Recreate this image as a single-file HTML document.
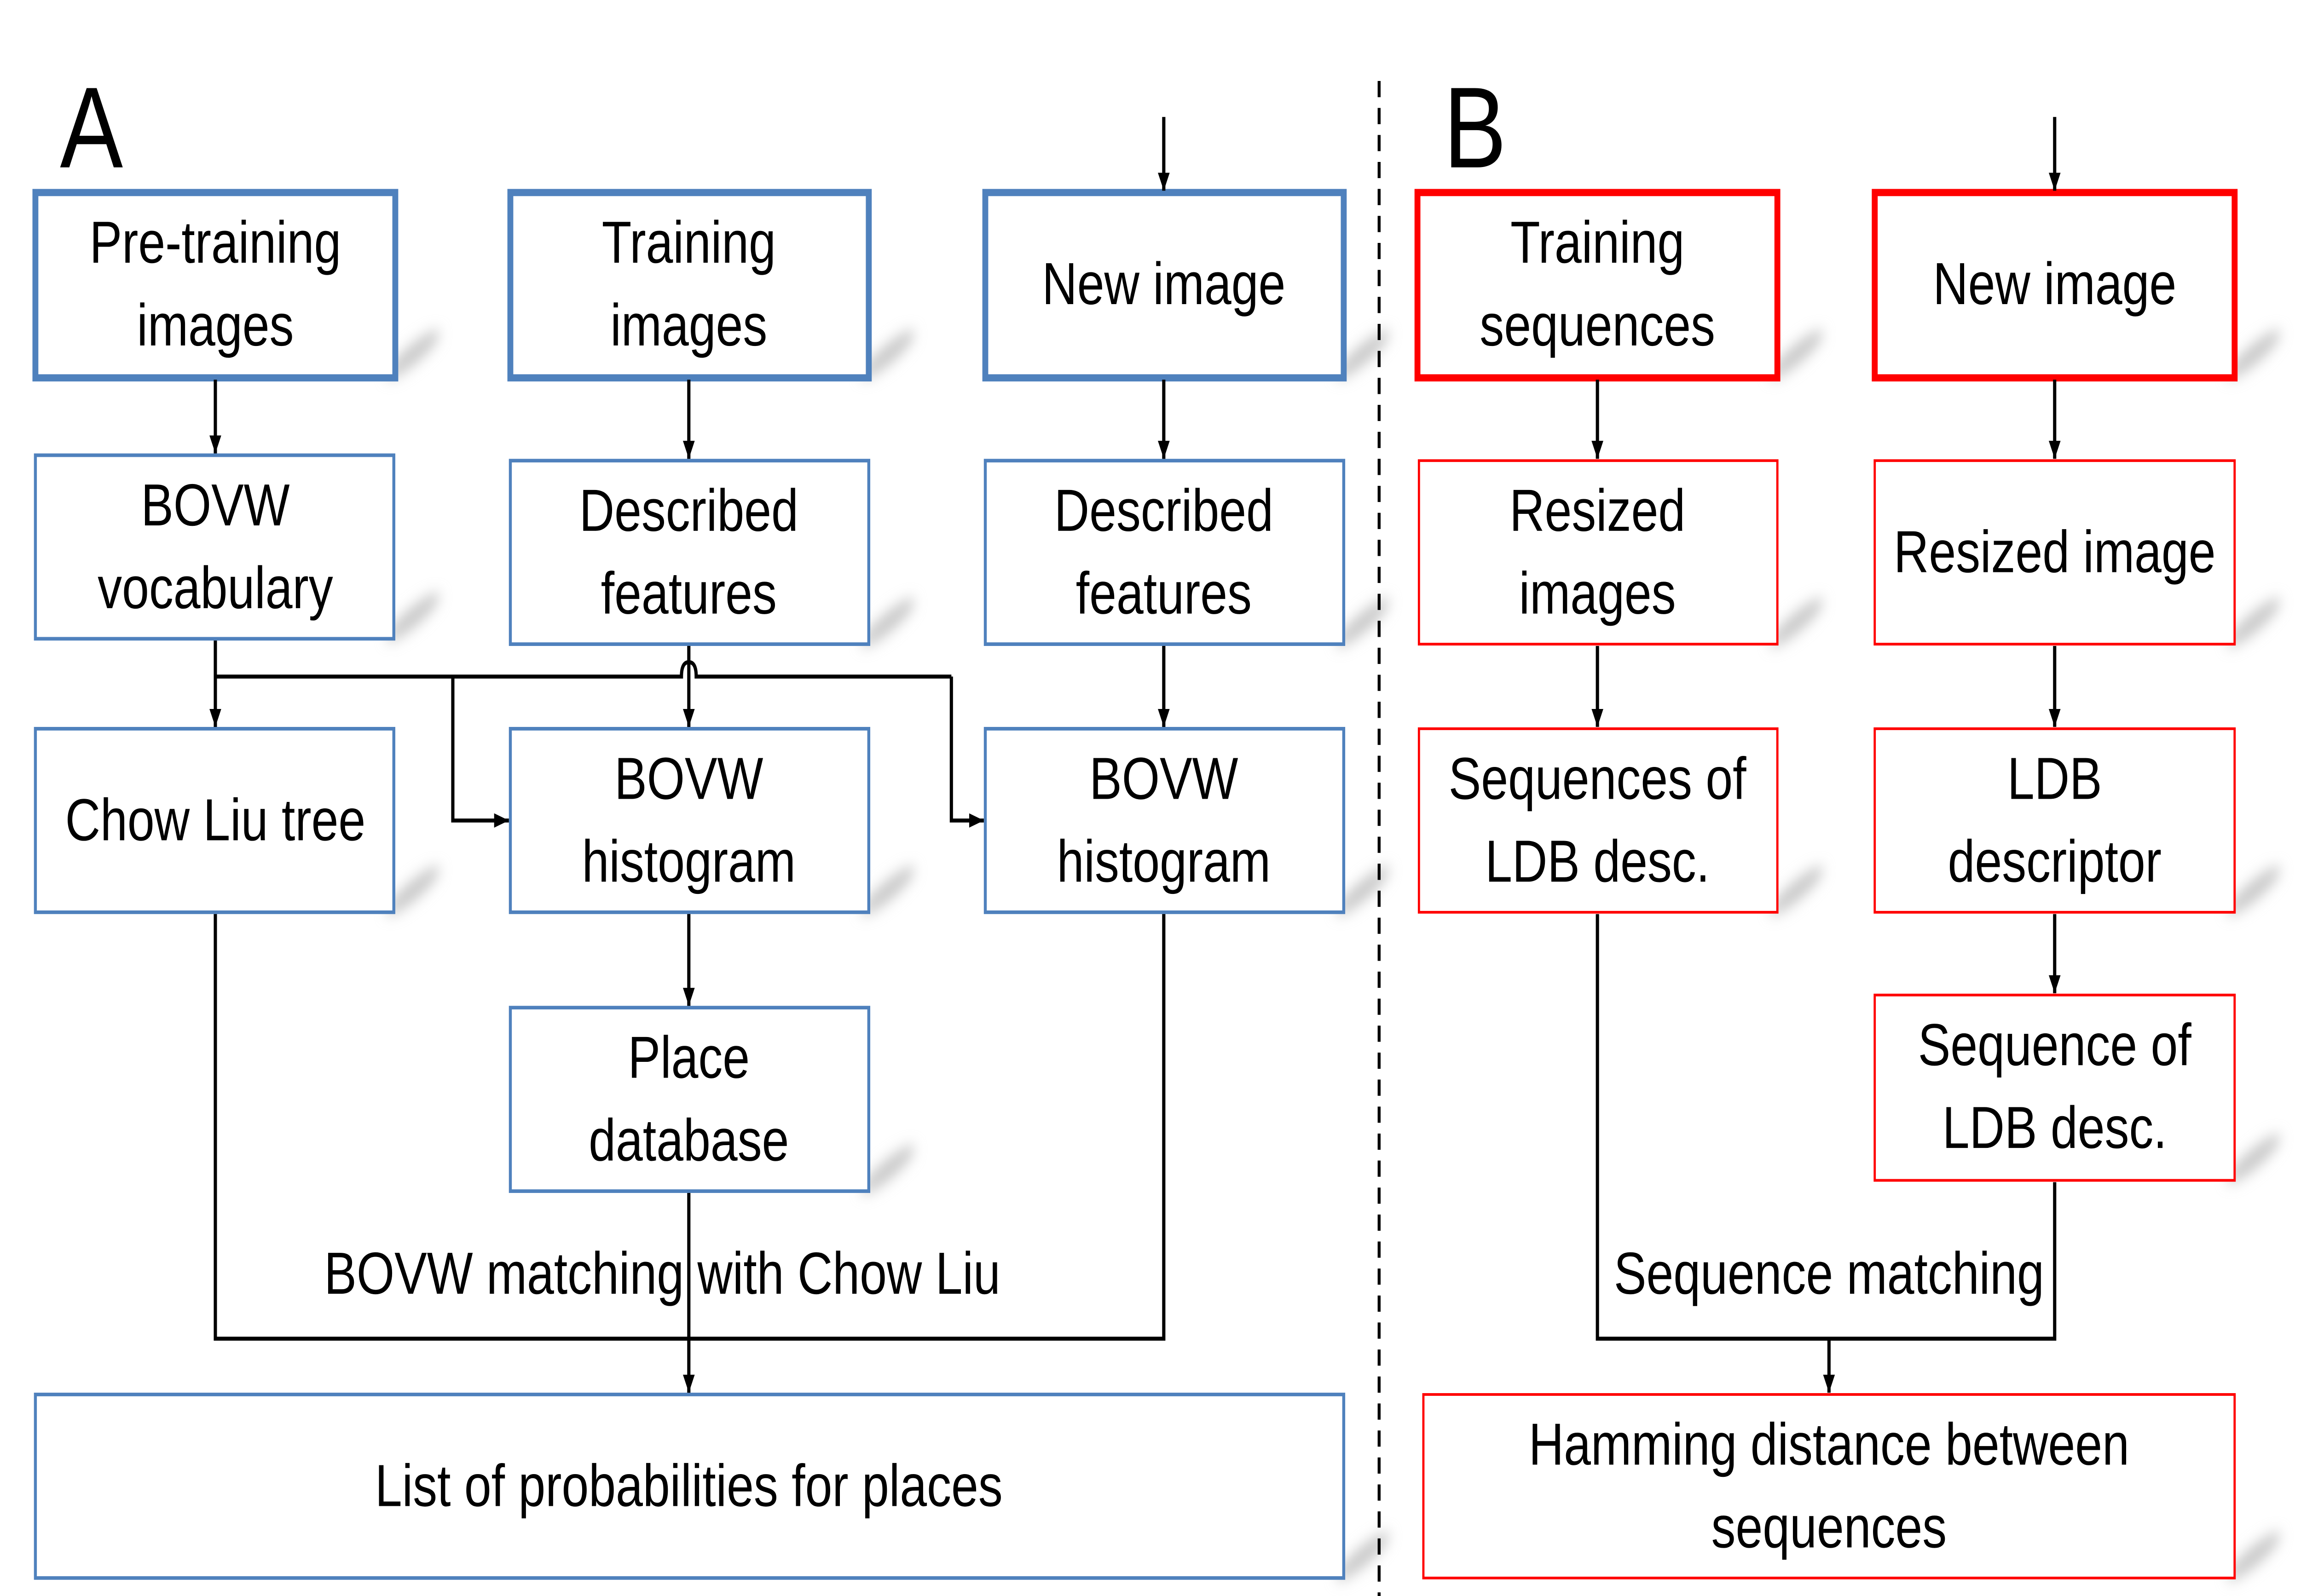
<!DOCTYPE html>
<html><head><meta charset="utf-8"><style>
html,body{margin:0;padding:0;background:#fff;width:100%;height:100%;overflow:hidden;}
svg{display:block;position:fixed;left:0;top:0;width:100vw;height:100vh;}
text{font-family:"Liberation Sans",sans-serif;font-size:33px;fill:#000;text-anchor:middle;}
</style></head><body>
<svg viewBox="0 0 1560 887" preserveAspectRatio="none" xmlns="http://www.w3.org/2000/svg">
<defs>
<filter id="bl" x="-50%" y="-50%" width="200%" height="200%"><feGaussianBlur stdDeviation="4"/></filter>
<marker id="ar" markerWidth="10" markerHeight="8" refX="10" refY="4" orient="auto" markerUnits="userSpaceOnUse"><path d="M0,0 L10,4 L0,8 z" fill="#000"/></marker>
</defs>
<g fill="#c8c8c8" filter="url(#bl)">
<ellipse cx="0" cy="0" rx="22" ry="5" transform="translate(280,197) rotate(-35)"/>
<ellipse cx="0" cy="0" rx="22" ry="5" transform="translate(602,197) rotate(-35)"/>
<ellipse cx="0" cy="0" rx="22" ry="5" transform="translate(924,197) rotate(-35)"/>
<ellipse cx="0" cy="0" rx="22" ry="5" transform="translate(280,343) rotate(-35)"/>
<ellipse cx="0" cy="0" rx="22" ry="5" transform="translate(602,346) rotate(-35)"/>
<ellipse cx="0" cy="0" rx="22" ry="5" transform="translate(924,346) rotate(-35)"/>
<ellipse cx="0" cy="0" rx="22" ry="5" transform="translate(280,495) rotate(-35)"/>
<ellipse cx="0" cy="0" rx="22" ry="5" transform="translate(602,495) rotate(-35)"/>
<ellipse cx="0" cy="0" rx="22" ry="5" transform="translate(924,495) rotate(-35)"/>
<ellipse cx="0" cy="0" rx="22" ry="5" transform="translate(602,650) rotate(-35)"/>
<ellipse cx="0" cy="0" rx="22" ry="5" transform="translate(924,865) rotate(-35)"/>
<ellipse cx="0" cy="0" rx="22" ry="5" transform="translate(1218,197) rotate(-35)"/>
<ellipse cx="0" cy="0" rx="22" ry="5" transform="translate(1528,197) rotate(-35)"/>
<ellipse cx="0" cy="0" rx="22" ry="5" transform="translate(1218,346) rotate(-35)"/>
<ellipse cx="0" cy="0" rx="22" ry="5" transform="translate(1528,346) rotate(-35)"/>
<ellipse cx="0" cy="0" rx="22" ry="5" transform="translate(1218,495) rotate(-35)"/>
<ellipse cx="0" cy="0" rx="22" ry="5" transform="translate(1528,495) rotate(-35)"/>
<ellipse cx="0" cy="0" rx="22" ry="5" transform="translate(1528,644) rotate(-35)"/>
<ellipse cx="0" cy="0" rx="22" ry="5" transform="translate(1528,865) rotate(-35)"/>
</g>
<g fill="#fff" stroke="#4f81bd">
<rect x="24" y="107" width="244" height="103" stroke-width="4"/>
<rect x="346" y="107" width="243" height="103" stroke-width="4"/>
<rect x="668" y="107" width="243" height="103" stroke-width="4"/>
<rect x="24" y="253" width="243" height="102" stroke-width="2"/>
<rect x="346" y="256" width="243" height="102" stroke-width="2"/>
<rect x="668" y="256" width="243" height="102" stroke-width="2"/>
<rect x="24" y="405" width="243" height="102" stroke-width="2"/>
<rect x="346" y="405" width="243" height="102" stroke-width="2"/>
<rect x="668" y="405" width="243" height="102" stroke-width="2"/>
<rect x="346" y="560" width="243" height="102" stroke-width="2"/>
<rect x="24" y="775" width="887" height="102" stroke-width="2"/>
</g>
<g fill="#fff" stroke="#ff0000">
<rect x="961" y="107" width="244" height="103" stroke-width="4"/>
<rect x="1271" y="107" width="244" height="103" stroke-width="4"/>
<rect x="962" y="256" width="243" height="102" stroke-width="1.5"/>
<rect x="1271" y="256" width="244" height="102" stroke-width="1.5"/>
<rect x="962" y="405" width="243" height="102" stroke-width="1.5"/>
<rect x="1271" y="405" width="244" height="102" stroke-width="1.5"/>
<rect x="1271" y="553" width="244" height="103" stroke-width="1.5"/>
<rect x="965" y="775" width="550" height="102" stroke-width="1.5"/>
</g>
<line x1="935" y1="45" x2="935" y2="887" stroke="#000" stroke-width="2" stroke-dasharray="9,6"/>
<g stroke="#000" stroke-width="2.2" fill="none" marker-end="url(#ar)">
<line x1="789" y1="65" x2="789" y2="106"/>
<line x1="1393" y1="65" x2="1393" y2="106"/>
<line x1="146" y1="211" x2="146" y2="252"/>
<line x1="467" y1="211" x2="467" y2="255"/>
<line x1="789" y1="211" x2="789" y2="255"/>
<line x1="146" y1="356" x2="146" y2="404"/>
<line x1="467" y1="359" x2="467" y2="404"/>
<line x1="789" y1="359" x2="789" y2="404"/>
<polyline points="307,376 307,456 345,456"/>
<polyline points="645,376 645,456 667,456"/>
<line x1="467" y1="508" x2="467" y2="559"/>
<line x1="467" y1="663" x2="467" y2="774"/>
<line x1="1083" y1="211" x2="1083" y2="255"/>
<line x1="1393" y1="211" x2="1393" y2="255"/>
<line x1="1083" y1="359" x2="1083" y2="404"/>
<line x1="1393" y1="359" x2="1393" y2="404"/>
<line x1="1393" y1="508" x2="1393" y2="552"/>
<line x1="1240" y1="744" x2="1240" y2="774"/>
</g>
<g stroke="#000" stroke-width="2.2" fill="none">
<path d="M146,376 H462 Q462,368 467,368 Q472,368 472,376 H645"/>
<polyline points="146,508 146,744 789,744 789,508"/>
<polyline points="1083,508 1083,744 1393,744 1393,657"/>
</g>
<text x="62" y="93" style="font-size:64px">A</text>
<text x="1000" y="93" style="font-size:64px">B</text>
<text x="146" y="146">Pre-training</text><text x="146" y="192">images</text>
<text x="467" y="146">Training</text><text x="467" y="192">images</text>
<text x="789" y="169">New image</text>
<text x="146" y="292">BOVW</text><text x="146" y="338">vocabulary</text>
<text x="467" y="295">Described</text><text x="467" y="341">features</text>
<text x="789" y="295">Described</text><text x="789" y="341">features</text>
<text x="146" y="467">Chow Liu tree</text>
<text x="467" y="444">BOVW</text><text x="467" y="490">histogram</text>
<text x="789" y="444">BOVW</text><text x="789" y="490">histogram</text>
<text x="467" y="599">Place</text><text x="467" y="645">database</text>
<text x="449" y="719">BOVW matching with Chow Liu</text>
<text x="467" y="837">List of probabilities for places</text>
<text x="1083" y="146">Training</text><text x="1083" y="192">sequences</text>
<text x="1393" y="169">New image</text>
<text x="1083" y="295">Resized</text><text x="1083" y="341">images</text>
<text x="1393" y="318">Resized image</text>
<text x="1083" y="444">Sequences of</text><text x="1083" y="490">LDB desc.</text>
<text x="1393" y="444">LDB</text><text x="1393" y="490">descriptor</text>
<text x="1393" y="592">Sequence of</text><text x="1393" y="638">LDB desc.</text>
<text x="1240" y="719">Sequence matching</text>
<text x="1240" y="814">Hamming distance between</text><text x="1240" y="860">sequences</text>
</svg>
</body></html>
